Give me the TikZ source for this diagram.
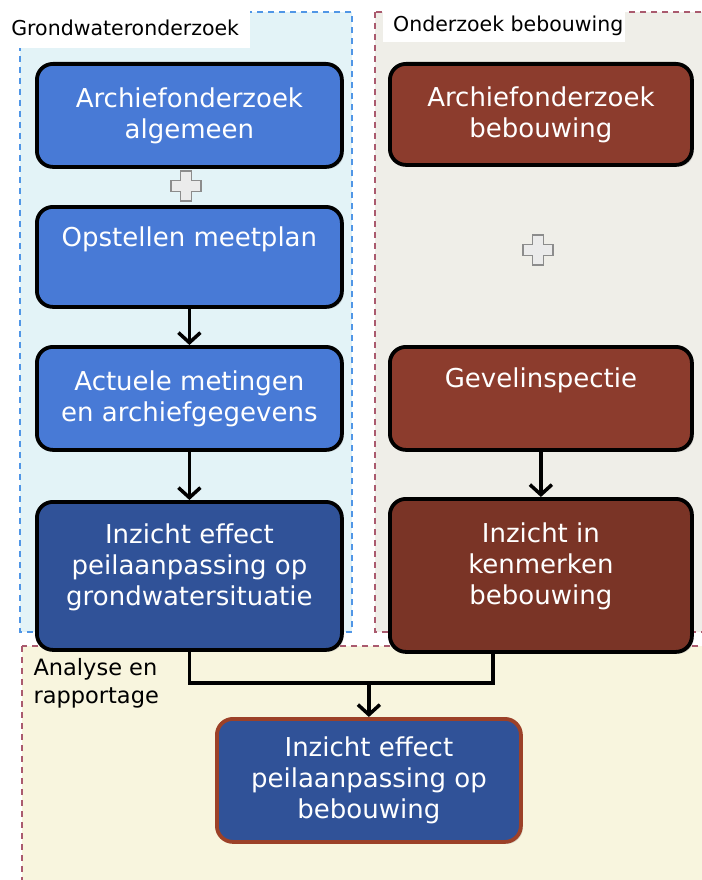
\documentclass[tikz,border=0pt]{standalone}
\usepackage{fontspec}
\setmainfont{DejaVu Sans}
\usetikzlibrary{arrows.meta,shadows}

\definecolor{stapBlauw}{RGB}{72,122,214}
\definecolor{stapDonkerblauw}{RGB}{48,82,152}
\definecolor{stapBruin}{RGB}{140,60,45}
\definecolor{stapDonkerbruin}{RGB}{122,52,38}
\definecolor{randBruin}{RGB}{156,65,40}
\definecolor{vlakBlauw}{RGB}{227,243,247}
\definecolor{vlakGrijs}{RGB}{239,238,232}
\definecolor{vlakGeel}{RGB}{248,245,222}
\definecolor{streepBlauw}{RGB}{80,150,230}
\definecolor{streepRood}{RGB}{170,90,110}

\tikzset{
  stap/.style = {draw=black, line width=3.8pt, rounded corners=16pt, text=white,
                 align=center, anchor=north west, inner sep=4pt,
                 font=\fontsize{26}{31}\selectfont,
                 drop shadow={opacity=0.25, shadow xshift=2pt, shadow yshift=-2pt}},
  vlak/.style = {dashed, line width=1.2pt, dash pattern=on 6pt off 5pt},
  kop/.style  = {anchor=north west, fill=white, inner sep=2pt, text=black,
                 font=\fontsize{20.5}{24}\selectfont},
  lijn/.style = {draw=black, line width=3.5pt},
  pijl/.style = {lijn, -{Straight Barb[length=10pt,width=22pt,line width=3.5pt]}},
  plusteken/.style = {fill=black!8, draw=black!45, line width=1.4pt}
}

% kruisje tussen twee stappen
\newcommand{\plusmark}[1]{%
  \draw[plusteken, shift={(#1)}] (-5.5,-15) -- (5.5,-15) -- (5.5,-5.5) -- (15,-5.5)
    -- (15,5.5) -- (5.5,5.5) -- (5.5,15) -- (-5.5,15) -- (-5.5,5.5) -- (-15,5.5)
    -- (-15,-5.5) -- (-5.5,-5.5) -- cycle;}

\begin{document}
\begin{tikzpicture}[x=1pt, y=-1pt]
            \useasboundingbox (0,0) rectangle (701,880);

            % achtergrondvlakken
            \draw[vlak, draw=streepRood, fill=vlakGeel] (22,646) rectangle (710,890);
            \draw[vlak, draw=streepBlauw, fill=vlakBlauw] (20,12) rectangle (352,632);
            \draw[vlak, draw=streepRood, fill=vlakGrijs] (375,12) rectangle (710,632);

            \node[kop, minimum width=250pt, minimum height=40pt, text depth=0pt] (kopGrond) at (0,8) {Grondwateronderzoek\hfill};
            \node[kop, minimum height=32pt] (kopBebouwing) at (383,10) {\hspace{8pt}Onderzoek bebouwing\hspace{14pt}};
            \node[anchor=north west, align=left, font=\fontsize{22.5}{28}\selectfont] (kopAnalyse) at (30,655) {Analyse en\\rapportage};

            % grondwater
            \node[stap, fill=stapBlauw, minimum width=305pt, minimum height=103pt] (archiefAlg) at (35,62) {Archiefonderzoek\\algemeen};
            \node[stap, fill=stapBlauw, minimum width=305pt, minimum height=100pt] (meetplan) at (35,205) {Opstellen meetplan\\[10pt]\mbox{}};
            \node[stap, fill=stapBlauw, minimum width=305pt, minimum height=103pt] (metingen) at (35,345) {Actuele metingen\\en archiefgegevens};
            \node[stap, fill=stapDonkerblauw, minimum width=305pt, minimum height=148pt] (effectGrond) at (35,500) {Inzicht effect\\peilaanpassing op\\grondwatersituatie\\[-8pt]\mbox{}};

            % bebouwing
            \node[stap, fill=stapBruin, minimum width=302pt, minimum height=101pt] (archiefBeb) at (388,62) {Archiefonderzoek\\bebouwing};
            \node[stap, fill=stapBruin, minimum width=302pt, minimum height=103pt] (gevel) at (388,345) {Gevelinspectie\\[10pt]\mbox{}};
            \node[stap, fill=stapDonkerbruin, minimum width=302pt, minimum height=153pt] (kenmerken) at (388,497) {Inzicht in\\kenmerken\\bebouwing\\[-8pt]\mbox{}};

            % analyse
            \node[stap, fill=stapDonkerblauw, draw=randBruin, minimum width=304pt, minimum height=123pt] (effectBeb) at (215,717) {Inzicht effect\\peilaanpassing op\\bebouwing};

            \plusmark{186,186}
            \plusmark{538,250}

            \draw[pijl] (meetplan) -- (metingen);
            \draw[pijl] (metingen) -- (effectGrond);
            \draw[pijl] (gevel) -- (kenmerken);

            \coordinate (samen) at (effectBeb.north |- 0,683);
            \draw[lijn] (effectGrond.south) |- (samen);
            \draw[lijn] (kenmerken.south -| 493,0) |- (samen);
            \draw[pijl] (samen) -- (effectBeb.north);

        \end{tikzpicture}
\end{document}
